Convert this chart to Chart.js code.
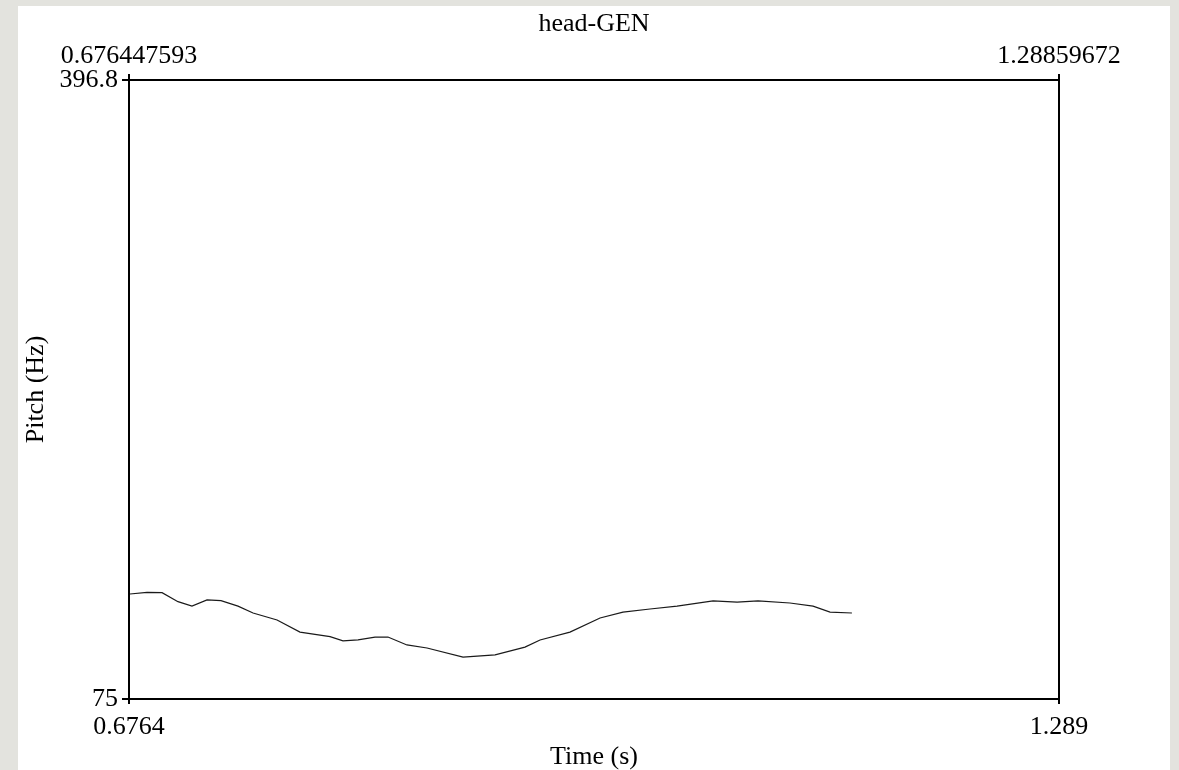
<!DOCTYPE html>
<html>
<head>
<meta charset="utf-8">
<script src="https://cdn.jsdelivr.net/npm/chart.js@4"></script>
<style>
  html, body { margin: 0; padding: 0; background: #e3e3de; }
  #panel { position: absolute; left: 18px; top: 6px; width: 1152px; height: 764px; background: #fff; }
  #wrap { position: absolute; left: 0; top: 0; width: 1179px; height: 770px; }
</style>
</head>
<body>
<div id="panel"></div>
<div id="wrap"><canvas id="pitchChart" width="1179" height="770"></canvas></div>
<script>
// pitch track (time in s, pitch in Hz)
const times = [0.6771, 0.6883, 0.6982, 0.7087, 0.7179, 0.7278, 0.7370, 0.7482, 0.7581, 0.7739,
  0.7890, 0.8088, 0.8173, 0.8272, 0.8384, 0.8469, 0.8594, 0.8726, 0.8963, 0.9174,
  0.9371, 0.9470, 0.9667, 0.9865, 1.0016, 1.0194, 1.0372, 1.0609, 1.0767, 1.0905,
  1.1115, 1.1267, 1.1379, 1.1523];
const pitch = [129.6, 130.4, 130.3, 125.6, 123.3, 126.5, 126.1, 123.3, 119.7, 116.1,
  109.8, 107.4, 105.2, 105.7, 107.2, 107.2, 103.1, 101.5, 96.8, 97.9,
  102.0, 105.7, 109.8, 117.1, 120.2, 121.8, 123.3, 126.0, 125.4, 126.0,
  124.9, 123.3, 120.2, 119.7];

const xRange = [0.676447593, 1.28859672];
const yRange = [75, 396.8];
const xBottomLabels = ['0.6764', '1.289'];
const xTopLabels = ['0.676447593', '1.28859672'];
const yLabels = ['75', '396.8'];

const serif = 'Liberation Serif';
const tickFont = { family: serif, size: 26 };

function edgeTicks(vals) {
  return function (scale) { scale.ticks = vals.map(v => ({ value: v })); };
}

const ctx = document.getElementById('pitchChart').getContext('2d');

const chart = new Chart(ctx, {
  type: 'line',
  data: {
    datasets: [{
      data: times.map((t, i) => ({ x: t, y: pitch[i] })),
      borderColor: '#1a1a1a',
      borderWidth: 1.2,
      pointRadius: 0,
      tension: 0,
      fill: false
    }]
  },
  options: {
    responsive: false,
    animation: false,
    layout: { padding: 0 },
    plugins: { legend: { display: false }, tooltip: { enabled: false } },
    scales: {
      x: {
        type: 'linear', position: 'bottom',
        min: xRange[0], max: xRange[1],
        afterBuildTicks: edgeTicks(xRange),
        afterFit: s => { s.height = 71; },
        ticks: { color: '#000', font: tickFont, padding: 8, maxRotation: 0, autoSkip: false,
          callback: (v, i) => xBottomLabels[i] },
        grid: { display: true, drawOnChartArea: false, drawTicks: true, tickLength: 5, color: '#000', lineWidth: 2 },
        border: { display: true, color: '#000', width: 2 },
        title: { display: true, text: 'Time (s)', color: '#000', font: { family: serif, size: 26, lineHeight: 1.0 }, padding: { top: 0, bottom: 0 } }
      },
      xTop: {
        type: 'linear', position: 'top',
        min: xRange[0], max: xRange[1],
        afterBuildTicks: edgeTicks(xRange),
        afterFit: s => { s.height = 80; },
        ticks: { color: '#000', font: tickFont, padding: 2, maxRotation: 0, autoSkip: false,
          callback: (v, i) => xTopLabels[i] },
        grid: { display: true, drawOnChartArea: false, drawTicks: true, tickLength: 6, color: '#000', lineWidth: 2 },
        border: { display: true, color: '#000', width: 2 },
        title: { display: true, text: 'head-GEN', color: '#000', font: { family: serif, size: 26 }, padding: { top: 9, bottom: 0 } }
      },
      y: {
        type: 'linear', position: 'left',
        min: yRange[0], max: yRange[1],
        afterBuildTicks: edgeTicks(yRange),
        afterFit: s => { s.width = 129; },
        ticks: { color: '#000', font: tickFont, padding: 4, autoSkip: false,
          callback: (v, i) => yLabels[i] },
        grid: { display: true, drawOnChartArea: false, drawTicks: true, tickLength: 7, color: '#000', lineWidth: 2 },
        border: { display: true, color: '#000', width: 2 },
        title: { display: true, text: 'Pitch (Hz)', color: '#000', font: { family: serif, size: 26 }, padding: { top: 21, bottom: 0 } }
      },
      yRight: {
        type: 'linear', position: 'right',
        min: yRange[0], max: yRange[1],
        afterFit: s => { s.width = 120; },
        ticks: { display: false },
        grid: { display: false },
        border: { display: true, color: '#000', width: 2 }
      }
    }
  }
});
</script>
</body>
</html>
